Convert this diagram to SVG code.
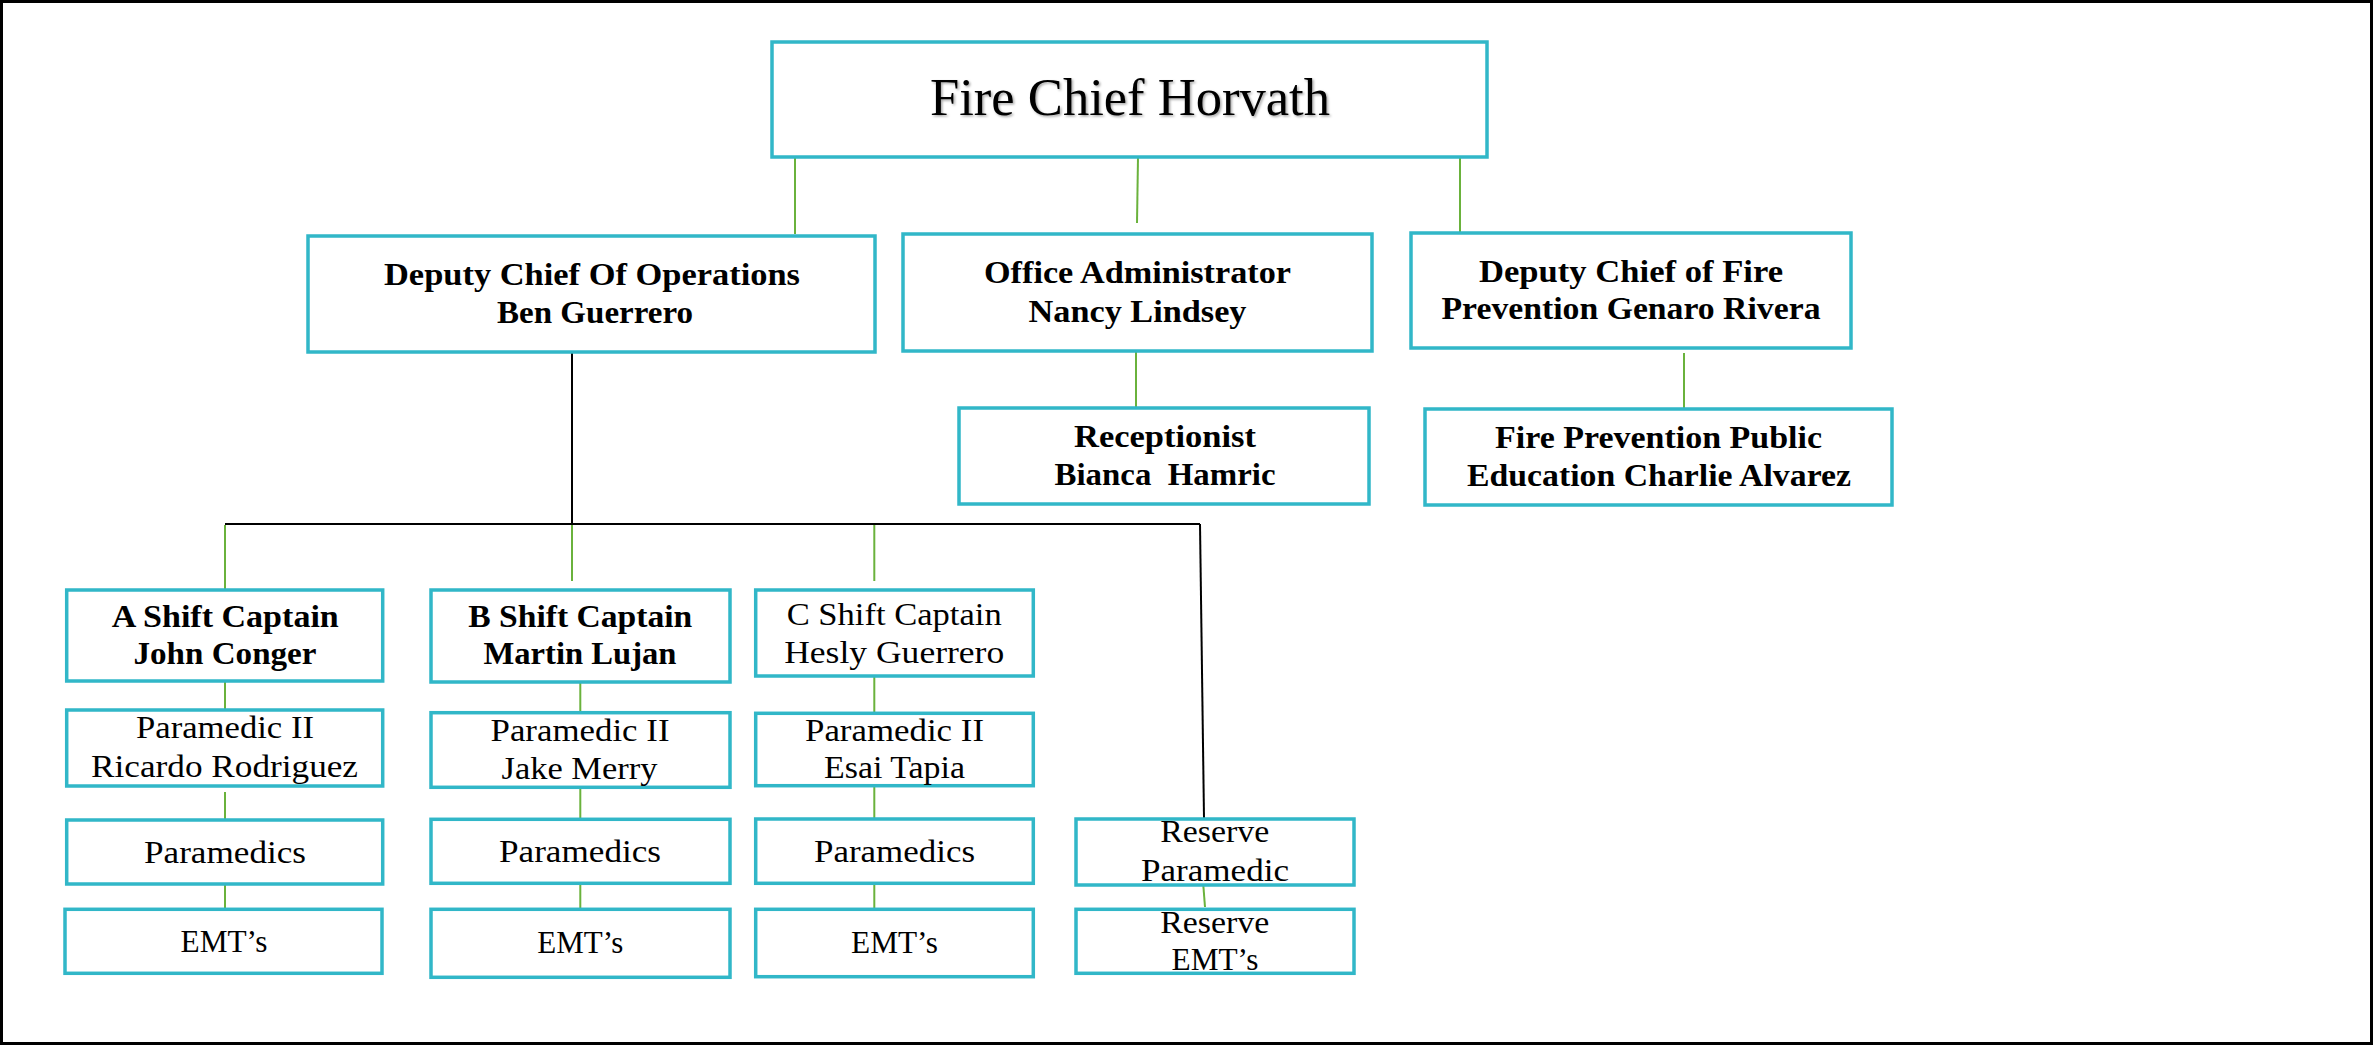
<svg xmlns="http://www.w3.org/2000/svg" width="2374" height="1046" viewBox="0 0 2374 1046">
<style>
.box{fill:#fff;stroke:#31B7C8;stroke-width:3.5}
.g{stroke:#6AB23C;stroke-width:2;fill:none}
.k{stroke:#000;stroke-width:2;fill:none}
text{font-family:"Liberation Serif","Times New Roman",serif;fill:#000;text-anchor:middle}
.b{font-weight:bold;font-size:32px}
.r{font-size:32px}
.t{font-size:52px}
</style>
<defs>
<filter id="sh" x="-5%" y="-20%" width="110%" height="140%">
<feDropShadow dx="1.5" dy="1.5" stdDeviation="1" flood-color="#000" flood-opacity="0.35"/>
</filter>
</defs>
<rect x="1.5" y="1.5" width="2370" height="1042" fill="#fff" stroke="#000" stroke-width="3"/>
<g id="connectors">
<line class="g" x1="795" y1="157" x2="795" y2="234"/>
<line class="g" x1="1138" y1="157" x2="1137" y2="223"/>
<line class="g" x1="1460" y1="157" x2="1460" y2="232"/>
<line class="g" x1="1136" y1="346" x2="1136" y2="407"/>
<line class="g" x1="1684" y1="353" x2="1684" y2="408"/>
<line class="k" x1="572" y1="352" x2="572" y2="524"/>
<line class="k" x1="225" y1="524" x2="1200" y2="524"/>
<line class="k" x1="1200" y1="524" x2="1204" y2="818"/>
<line class="g" x1="225" y1="525" x2="225" y2="589"/>
<line class="g" x1="572" y1="525" x2="572" y2="581"/>
<line class="g" x1="874.3" y1="525" x2="874.3" y2="581"/>
<line class="g" x1="225" y1="681" x2="225" y2="709"/>
<line class="g" x1="225" y1="792" x2="225" y2="820"/>
<line class="g" x1="225" y1="884" x2="225" y2="909"/>
<line class="g" x1="580.3" y1="682" x2="580.3" y2="712"/>
<line class="g" x1="580.3" y1="787" x2="580.3" y2="818"/>
<line class="g" x1="580.3" y1="883" x2="580.3" y2="909"/>
<line class="g" x1="874.3" y1="676" x2="874.3" y2="712"/>
<line class="g" x1="874.3" y1="786" x2="874.3" y2="818"/>
<line class="g" x1="874.3" y1="883" x2="874.3" y2="908"/>
<line class="g" x1="1203.3" y1="885" x2="1205" y2="907"/>
</g>
<g id="fire-chief">
<rect class="box" x="772" y="42" width="715" height="115"/>
<text class="t" x="1130" y="115" textLength="400" lengthAdjust="spacingAndGlyphs" filter="url(#sh)">Fire Chief Horvath</text>
</g>
<g id="deputy-ops">
<rect class="box" x="308" y="236" width="567" height="116"/>
<text class="b" x="592" y="285" textLength="416" lengthAdjust="spacingAndGlyphs">Deputy Chief Of Operations</text>
<text class="b" x="595" y="323" textLength="196" lengthAdjust="spacingAndGlyphs">Ben Guerrero</text>
</g>
<g id="office-admin">
<rect class="box" x="903" y="234" width="469" height="117"/>
<text class="b" x="1137.5" y="283" textLength="307" lengthAdjust="spacingAndGlyphs">Office Administrator</text>
<text class="b" x="1137.5" y="322" textLength="218" lengthAdjust="spacingAndGlyphs">Nancy Lindsey</text>
</g>
<g id="deputy-fire-prevention">
<rect class="box" x="1411" y="233" width="440" height="115"/>
<text class="b" x="1631" y="282" textLength="304" lengthAdjust="spacingAndGlyphs">Deputy Chief of Fire</text>
<text class="b" x="1631" y="319" textLength="379" lengthAdjust="spacingAndGlyphs">Prevention Genaro Rivera</text>
</g>
<g id="receptionist">
<rect class="box" x="959" y="408" width="410" height="96"/>
<text class="b" x="1165" y="447" textLength="182" lengthAdjust="spacingAndGlyphs">Receptionist</text>
<text class="b" x="1165" y="485" textLength="221" lengthAdjust="spacingAndGlyphs" xml:space="preserve">Bianca  Hamric</text>
</g>
<g id="fire-prevention-public">
<rect class="box" x="1425" y="409" width="467" height="96"/>
<text class="b" x="1658.5" y="448" textLength="327" lengthAdjust="spacingAndGlyphs">Fire Prevention Public</text>
<text class="b" x="1659" y="486" textLength="384" lengthAdjust="spacingAndGlyphs">Education Charlie Alvarez</text>
</g>
<g id="a-shift-captain">
<rect class="box" x="66.7" y="590" width="316" height="91"/>
<text class="b" x="225.3" y="626.7" textLength="227" lengthAdjust="spacingAndGlyphs">A Shift Captain</text>
<text class="b" x="225" y="664.3" textLength="183" lengthAdjust="spacingAndGlyphs">John Conger</text>
</g>
<g id="a-paramedic-2">
<rect class="box" x="66.7" y="710" width="316" height="76"/>
<text class="r" x="225" y="738.3" textLength="178" lengthAdjust="spacingAndGlyphs">Paramedic II</text>
<text class="r" x="224.5" y="777.3" textLength="267" lengthAdjust="spacingAndGlyphs">Ricardo Rodriguez</text>
</g>
<g id="a-paramedics">
<rect class="box" x="66.7" y="820" width="316" height="64"/>
<text class="r" x="225" y="863.3" textLength="162" lengthAdjust="spacingAndGlyphs">Paramedics</text>
</g>
<g id="a-emts">
<rect class="box" x="65" y="909.3" width="317" height="64"/>
<text class="r" x="224" y="951.7" textLength="87" lengthAdjust="spacingAndGlyphs">EMT’s</text>
</g>
<g id="b-shift-captain">
<rect class="box" x="431" y="590" width="299" height="92"/>
<text class="b" x="580.3" y="626.7" textLength="224" lengthAdjust="spacingAndGlyphs">B Shift Captain</text>
<text class="b" x="580" y="664.3" textLength="193" lengthAdjust="spacingAndGlyphs">Martin Lujan</text>
</g>
<g id="b-paramedic-2">
<rect class="box" x="431" y="712.7" width="299" height="74.6"/>
<text class="r" x="580" y="740.7" textLength="179" lengthAdjust="spacingAndGlyphs">Paramedic II</text>
<text class="r" x="579.5" y="779.3" textLength="156" lengthAdjust="spacingAndGlyphs">Jake Merry</text>
</g>
<g id="b-paramedics">
<rect class="box" x="431" y="819.3" width="299" height="64"/>
<text class="r" x="580" y="862.3" textLength="162" lengthAdjust="spacingAndGlyphs">Paramedics</text>
</g>
<g id="b-emts">
<rect class="box" x="431" y="909.3" width="299" height="68"/>
<text class="r" x="580.3" y="953.3" textLength="86" lengthAdjust="spacingAndGlyphs">EMT’s</text>
</g>
<g id="c-shift-captain">
<rect class="box" x="755.7" y="590" width="277.6" height="86"/>
<text class="r" x="894.2" y="625" textLength="215" lengthAdjust="spacingAndGlyphs">C Shift Captain</text>
<text class="r" x="894.2" y="662.7" textLength="220" lengthAdjust="spacingAndGlyphs">Hesly Guerrero</text>
</g>
<g id="c-paramedic-2">
<rect class="box" x="755.7" y="713.3" width="277.6" height="72.4"/>
<text class="r" x="894.5" y="740.7" textLength="179" lengthAdjust="spacingAndGlyphs">Paramedic II</text>
<text class="r" x="894.5" y="778.3" textLength="141" lengthAdjust="spacingAndGlyphs">Esai Tapia</text>
</g>
<g id="c-paramedics">
<rect class="box" x="755.7" y="819" width="277.6" height="64.3"/>
<text class="r" x="894.5" y="861.7" textLength="161" lengthAdjust="spacingAndGlyphs">Paramedics</text>
</g>
<g id="c-emts">
<rect class="box" x="755.7" y="909.3" width="277.6" height="67.4"/>
<text class="r" x="894.5" y="953.3" textLength="87" lengthAdjust="spacingAndGlyphs">EMT’s</text>
</g>
<g id="reserve-paramedic">
<rect class="box" x="1076" y="819" width="278" height="66"/>
<text class="r" x="1214.7" y="842.3" textLength="109" lengthAdjust="spacingAndGlyphs">Reserve</text>
<text class="r" x="1215" y="880.7" textLength="148" lengthAdjust="spacingAndGlyphs">Paramedic</text>
</g>
<g id="reserve-emts">
<rect class="box" x="1076" y="909.3" width="278" height="64"/>
<text class="r" x="1214.7" y="932.7" textLength="109" lengthAdjust="spacingAndGlyphs">Reserve</text>
<text class="r" x="1215" y="970" textLength="87" lengthAdjust="spacingAndGlyphs">EMT’s</text>
</g>
</svg>
